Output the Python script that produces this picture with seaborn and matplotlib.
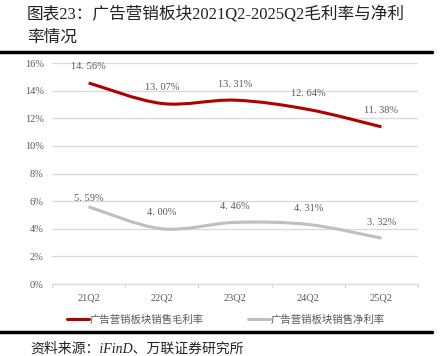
import matplotlib
matplotlib.use("Agg")
import matplotlib.pyplot as plt
from matplotlib.path import Path
from matplotlib.patches import PathPatch
from matplotlib.lines import Line2D
import seaborn as sns
import pandas as pd
import numpy as np

quarters = ["21Q2", "22Q2", "23Q2", "24Q2", "25Q2"]
gross_margin = [14.56, 13.07, 13.31, 12.64, 11.38]
net_margin = [5.59, 4.00, 4.46, 4.31, 3.32]
series_names = ["广告营销板块销售毛利率", "广告营销板块销售净利率"]
yticks = [0, 2, 4, 6, 8, 10, 12, 14, 16]
title_lines = ["图表23：广告营销板块2021Q2-2025Q2毛利率与净利", "率情况"]
source_text = "资料来源：iFinD、万联证券研究所"

colors = ["#B00000", "#BFBFBF"]
FONT = ["Liberation Serif", "Noto Sans CJK SC"]

sns.set_theme(style="white")
plt.rcParams["font.family"] = FONT

df = pd.DataFrame({
    "quarter": quarters * 2,
    "value": gross_margin + net_margin,
    "series": [series_names[0]] * 5 + [series_names[1]] * 5,
})

fig = plt.figure(figsize=(4.43, 3.56), dpi=100)
ax = fig.add_axes([0.1174, 0.2022, 0.8262, 0.6208])

sns.lineplot(data=df, x="quarter", y="value", hue="series",
             palette=colors, ax=ax, legend=False, linewidth=2.2, sort=False)

# replace straight segments with smooth Bezier curves (Excel-like smoothing)
for line, col in zip(list(ax.lines), colors):
    pts = line.get_xydata()
    line.set_visible(False)
    n = len(pts)
    verts = [pts[0]]
    codes = [Path.MOVETO]
    for i in range(n - 1):
        p0 = pts[i - 1] if i > 0 else pts[i]
        p1 = pts[i]
        p2 = pts[i + 1]
        p3 = pts[i + 2] if i + 2 < n else pts[i + 1]
        c1 = p1 + (p2 - p0) / 6.0
        c2 = p2 - (p3 - p1) / 6.0
        verts += [c1, c2, p2]
        codes += [Path.CURVE4] * 3
    patch = PathPatch(Path(verts, codes), fill=False, edgecolor=col,
                      linewidth=2.2, capstyle="butt", transform=ax.transData)
    ax.add_patch(patch)

# data labels
label_offsets = [[16, 16, 16, 16, 16], [8, 16, 16, 16, 16]]
for vals, offs in zip([gross_margin, net_margin], label_offsets):
    for i, (v, o) in enumerate(zip(vals, offs)):
        ax.annotate(f"{v:.2f}%".replace(".", ". "), (i, v), xytext=(0, o * 0.72),
                    textcoords="offset points", ha="center", va="center",
                    fontsize=7.5, color="#595959", family=FONT)

ax.set_xlim(-0.5, 4.5)
ax.set_ylim(0, 16)
ax.set_yticks(yticks)
ax.set_yticklabels([f"{t}%" for t in yticks], fontsize=7.5, color="#595959")
ax.set_xticks(range(5))
ax.set_xticklabels(quarters, fontsize=7.5, color="#595959")
ax.set_xlabel("")
ax.set_ylabel("")
ax.yaxis.grid(True, color="#D9D9D9", linewidth=0.9)
ax.set_axisbelow(True)
for s in ["top", "right", "left"]:
    ax.spines[s].set_visible(False)
ax.spines["bottom"].set_color("#D9D9D9")
ax.spines["bottom"].set_linewidth(0.9)
ax.tick_params(axis="y", length=0, pad=6)
ax.tick_params(axis="x", length=0, pad=7)
# category boundary ticks
for b in np.arange(-0.5, 5.0, 1.0):
    ax.plot([b, b], [0, -0.25], color="#D9D9D9", lw=0.9, clip_on=False)

handles = [Line2D([], [], color=c, lw=2.2) for c in colors]
fig.legend(handles, series_names, loc="center", bbox_to_anchor=(0.51, 0.101),
           ncol=2, frameon=False, fontsize=7.5, handlelength=2.1,
           handletextpad=0.1, columnspacing=4.2, labelcolor="#595959")

# title
fig.text(27 / 443, 1 - 14 / 356, title_lines[0], fontsize=12, va="center",
         ha="left", color="#222222", family=FONT)
fig.text(27 / 443, 1 - 38 / 356, title_lines[1], fontsize=12, va="center",
         ha="left", color="#222222", family=FONT)

# horizontal rules
fig.add_artist(Line2D([0, 432 / 443], [1 - 52 / 356] * 2, color="black", lw=2.5,
                      transform=fig.transFigure))
fig.add_artist(Line2D([0, 432 / 443], [1 - 332 / 356] * 2, color="black", lw=2.5,
                      transform=fig.transFigure))

fig.text(30 / 443, 1 - 349 / 356, source_text, fontsize=10, style="italic",
         va="center", ha="left", color="#222222", family=FONT)

fig.savefig("out.png", dpi=100)
